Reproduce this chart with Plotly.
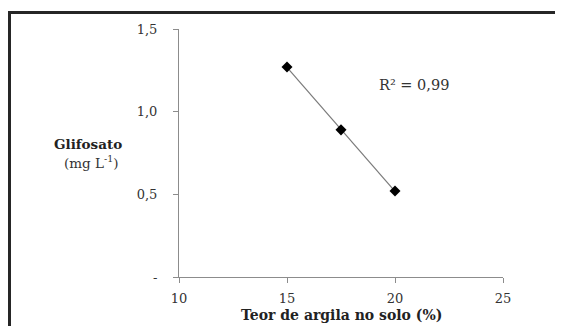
import numpy as np
import plotly.graph_objects as go

# Data
clay = [15, 17.5, 20]                 # Teor de argila no solo (%)
glyphosate = [1.27, 0.89, 0.52]       # Glifosato (mg L-1)
x_ticks = [10, 15, 20, 25]
x_ticklabels = ["10", "15", "20", "25"]
y_ticks = [0, 0.5, 1.0, 1.5]
y_ticklabels = ["-", "0,5", "1,0", "1,5"]
r2_text = "R² = 0,99"

OFF = 8  # default page body margin
W, H = 563 - OFF, 326 - OFF
# plot area in page pixels: x 179..503, y 29..277
L, T = 179 - OFF, 29 - OFF
R = W - (503 - OFF)
B = H - (277 - OFF)
pw, ph = W - L - R, H - T - B

def px2paper_x(px):
    return (px - OFF - L) / pw

def px2paper_y(py):
    return (H - B - (py - OFF)) / ph

font_family = "DejaVu Serif, Liberation Serif, serif"

# linear trend line fitted from data
coef = np.polyfit(clay, glyphosate, 1)
fit_x = [min(clay), max(clay)]
fit_y = [coef[0] * v + coef[1] for v in fit_x]

fig = go.Figure()
fig.add_trace(go.Scatter(x=fit_x, y=fit_y, mode="lines",
                         line=dict(color="#7a7a7a", width=1.2),
                         hoverinfo="skip", showlegend=False))
fig.add_trace(go.Scatter(x=clay, y=glyphosate, mode="markers",
                         marker=dict(symbol="diamond", size=8.5, color="black"),
                         showlegend=False))

def ann(text, x, y, size, color):
    return dict(text=text, xref="paper", yref="paper",
                x=px2paper_x(x), y=px2paper_y(y), xanchor="center", yanchor="middle",
                showarrow=False, font=dict(size=size, color=color))

fig.update_layout(
    width=W, height=H,
    margin=dict(l=L, r=R, t=T, b=B, pad=0),
    paper_bgcolor="white", plot_bgcolor="white",
    font=dict(family=font_family, size=13, color="#333"),
    xaxis=dict(range=[10, 25], tickmode="array", tickvals=x_ticks, ticktext=x_ticklabels,
               showgrid=False, zeroline=False, showline=True, linecolor="#8c8c8c", linewidth=1,
               ticks="outside", ticklen=5, tickcolor="#8c8c8c", tickwidth=1,
               ticklabelstandoff=4, tickfont=dict(size=13, color="#333")),
    yaxis=dict(range=[0, 1.5], tickmode="array", tickvals=y_ticks, ticktext=y_ticklabels,
               showgrid=False, zeroline=False, showline=True, linecolor="#8c8c8c", linewidth=1,
               ticks="outside", ticklen=5, tickcolor="#8c8c8c", tickwidth=1,
               ticklabelstandoff=13, tickfont=dict(size=13, color="#333")),
    shapes=[dict(type="rect", xref="paper", yref="paper",
                 x0=px2paper_x(9.5), x1=px2paper_x(600),
                 y0=px2paper_y(360), y1=px2paper_y(12.5),
                 line=dict(color="#262626", width=3), fillcolor="rgba(0,0,0,0)",
                 layer="above")],
    annotations=[
        ann("<b>Teor de argila no solo (%)</b>", 341, 315, 14, "#222"),
        ann("<b>Glifosato</b>", 88, 144, 13.5, "#222"),
        ann("(mg L<sup>-1</sup>)", 91, 162, 13.5, "#333"),
        ann(r2_text, 414, 85, 14.5, "#333"),
    ],
)

fig.write_html("out.html")
